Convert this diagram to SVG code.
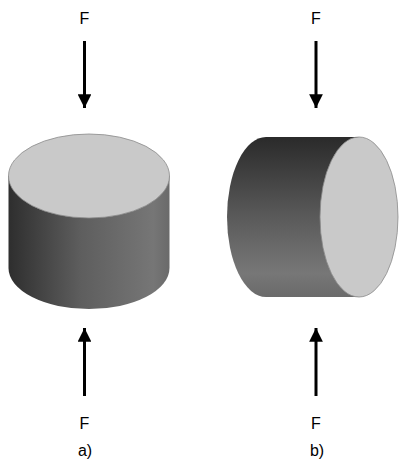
<svg xmlns="http://www.w3.org/2000/svg" width="399" height="463" viewBox="0 0 399 463">
  <defs>
    <linearGradient id="sideH" x1="0" y1="0" x2="1" y2="0">
      <stop offset="0" stop-color="#2e2e2e"/>
      <stop offset="0.45" stop-color="#5e5e5e"/>
      <stop offset="0.9" stop-color="#767676"/>
      <stop offset="1" stop-color="#6a6a6a"/>
    </linearGradient>
    <linearGradient id="sideV" x1="0" y1="0" x2="0" y2="1">
      <stop offset="0" stop-color="#2a2a2a"/>
      <stop offset="0.5" stop-color="#5a5a5a"/>
      <stop offset="0.85" stop-color="#777777"/>
      <stop offset="1" stop-color="#6a6a6a"/>
    </linearGradient>
    <marker id="head" viewBox="0 0 10 10" refX="10" refY="5" markerWidth="4.6" markerHeight="4.6" markerUnits="strokeWidth" orient="auto">
      <path d="M0,0 L10,5 L0,10 z" fill="#000"/>
    </marker>
  </defs>
  <style>
    .face { fill: #c9c9c9; stroke: #8a8a8a; stroke-width: 0.8; }
    .arrow { stroke: #000; stroke-width: 3; fill: none; marker-end: url(#head); }
    .lbl { font-family: "Liberation Sans", Arial, sans-serif; font-size: 16px; fill: #000; text-anchor: middle; }
  </style>

  <!-- a) upright cylinder -->
  <g id="cylinder-a">
    <path d="M8.5,176 L8.5,268 A80.5,41 0 0 0 169.5,268 L169.5,176 Z" fill="url(#sideH)"/>
    <ellipse class="face" cx="89" cy="176" rx="80.5" ry="42"/>
  </g>

  <!-- b) cylinder lying on its side -->
  <g id="cylinder-b">
    <path d="M359,137 L266,137 A39,80 0 0 0 266,297 L359,297 Z" fill="url(#sideV)"/>
    <ellipse class="face" cx="359" cy="217" rx="39" ry="80"/>
  </g>

  <!-- force arrows -->
  <g id="connectors">
    <line class="arrow" x1="84.5" y1="41" x2="84.5" y2="108"/>
    <line class="arrow" x1="84.5" y1="396" x2="84.5" y2="328"/>
    <line class="arrow" x1="316" y1="41" x2="316" y2="108"/>
    <line class="arrow" x1="316" y1="396" x2="316" y2="328"/>
  </g>

  <g id="labels">
    <text class="lbl" x="84.5" y="24">F</text>
    <text class="lbl" x="84.5" y="429">F</text>
    <text class="lbl" x="316" y="24">F</text>
    <text class="lbl" x="316" y="429">F</text>
    <text class="lbl" x="85" y="456" font-size="15">a)</text>
    <text class="lbl" x="317" y="456" font-size="15">b)</text>
  </g>
</svg>
